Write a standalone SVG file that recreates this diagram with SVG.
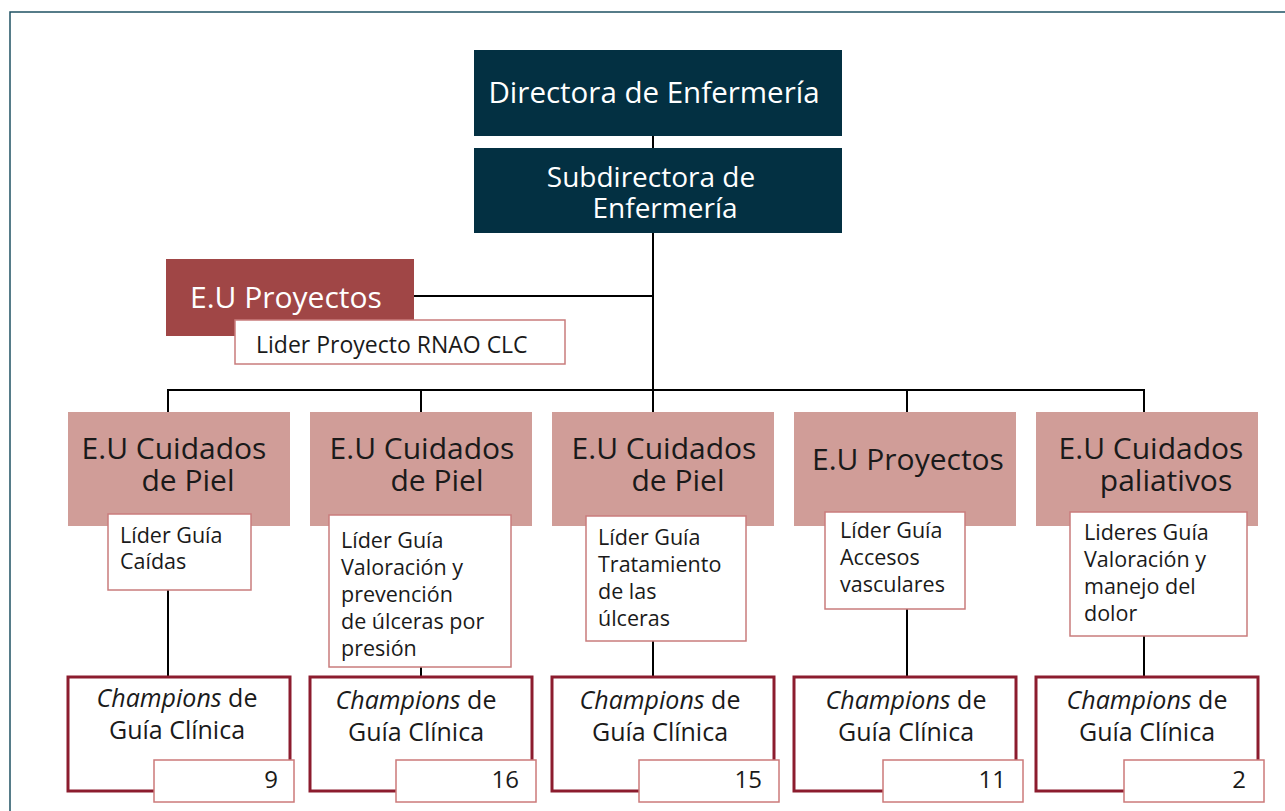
<svg xmlns="http://www.w3.org/2000/svg" width="1285" height="811" viewBox="0 0 1285 811">
<style>
.t{font-family:"Open Sans","Noto Sans","Liberation Sans",sans-serif;}
.dark{fill:#033042;}
.red{fill:#a04646;}
.pink{fill:#d09d98;}
.wb{fill:#ffffff;stroke:#c97c7c;stroke-width:1.5;}
.champ{fill:#ffffff;stroke:#8c1c2e;stroke-width:3;}
.num{fill:#ffffff;stroke:#cc7a7a;stroke-width:1.5;}
.wt{fill:#ffffff;}
.bt{fill:#1a1a1a;}
.lt{font-size:21.5px;}
.ct{font-size:25px;}
.c line{stroke:#000;stroke-width:2;}
</style>
<rect width="1285" height="811" fill="#ffffff"/>
<rect x="10" y="12" width="1300" height="830" fill="none" stroke="#1f5163" stroke-width="1.5"/>

<g class="c" id="connectors">
<line x1="653" y1="136" x2="653" y2="148"/>
<line x1="653" y1="233" x2="653" y2="391"/>
<line x1="414" y1="296" x2="653" y2="296"/>
<line x1="167" y1="390" x2="1145" y2="390"/>
<line x1="168" y1="390" x2="168" y2="412"/>
<line x1="421" y1="390" x2="421" y2="412"/>
<line x1="653" y1="390" x2="653" y2="412"/>
<line x1="907" y1="390" x2="907" y2="412"/>
<line x1="1144" y1="390" x2="1144" y2="412"/>
<line x1="168" y1="590" x2="168" y2="677"/>
<line x1="421" y1="667" x2="421" y2="677"/>
<line x1="653" y1="641" x2="653" y2="677"/>
<line x1="907" y1="609" x2="907" y2="677"/>
<line x1="1144" y1="636" x2="1144" y2="677"/>
</g>

<g id="directora">
<rect class="dark" x="474" y="50" width="368" height="86"/>
<text class="t wt" x="654" y="103" font-size="29.5" text-anchor="middle">Directora de Enfermería</text>
</g>
<g id="subdirectora">
<rect class="dark" x="474" y="148" width="368" height="85"/>
<text class="t wt" font-size="28" text-anchor="middle"><tspan x="651" y="187">Subdirectora de</tspan><tspan x="665" y="218">Enfermería</tspan></text>
</g>

<g id="eu-proyectos-top">
<rect class="red" x="166" y="259" width="248" height="77"/>
<text class="t wt" x="190" y="308" font-size="30">E.U Proyectos</text>
</g>
<g id="lider-rnao">
<rect class="wb" x="235" y="320" width="330" height="44"/>
<text class="t bt" x="256" y="353" font-size="23">Lider Proyecto RNAO CLC</text>
</g>

<!-- column 1 -->
<g id="col1-unit">
<rect class="pink" x="68" y="412" width="222" height="114"/>
<text class="t bt" font-size="30" text-anchor="middle"><tspan x="174" y="459">E.U Cuidados</tspan><tspan x="188" y="491">de Piel</tspan></text>
</g>
<g id="col1-lider">
<rect class="wb" x="108" y="514" width="143" height="76"/>
<text class="t bt lt"><tspan x="120" y="543">Líder Guía</tspan><tspan x="120" y="569">Caídas</tspan></text>
</g>
<g id="col1-champ">
<rect class="champ" x="68" y="677" width="222" height="114"/>
<text class="t bt ct" text-anchor="middle"><tspan x="177" y="707"><tspan font-style="italic">Champions</tspan> de</tspan><tspan x="177" y="739">Guía Clínica</tspan></text>
<rect class="num" x="154" y="760" width="140" height="42"/>
<text class="t bt" x="278" y="788" font-size="24" text-anchor="end">9</text>
</g>

<!-- column 2 -->
<g id="col2-unit">
<rect class="pink" x="310" y="412" width="222" height="114"/>
<text class="t bt" font-size="30" text-anchor="middle"><tspan x="422" y="459">E.U Cuidados</tspan><tspan x="437" y="491">de Piel</tspan></text>
</g>
<g id="col2-lider">
<rect class="wb" x="329" y="515" width="182" height="152"/>
<text class="t bt lt"><tspan x="341" y="548">Líder Guía</tspan><tspan x="341" y="575">Valoración y</tspan><tspan x="341" y="602">prevención</tspan><tspan x="341" y="629">de úlceras por</tspan><tspan x="341" y="656">presión</tspan></text>
</g>
<g id="col2-champ">
<rect class="champ" x="310" y="677" width="222" height="114"/>
<text class="t bt ct" text-anchor="middle"><tspan x="416" y="709"><tspan font-style="italic">Champions</tspan> de</tspan><tspan x="416" y="741">Guía Clínica</tspan></text>
<rect class="num" x="396" y="760" width="140" height="42"/>
<text class="t bt" x="519" y="788" font-size="24" text-anchor="end">16</text>
</g>

<!-- column 3 -->
<g id="col3-unit">
<rect class="pink" x="552" y="412" width="222" height="114"/>
<text class="t bt" font-size="30" text-anchor="middle"><tspan x="664" y="459">E.U Cuidados</tspan><tspan x="678" y="491">de Piel</tspan></text>
</g>
<g id="col3-lider">
<rect class="wb" x="586" y="516" width="160" height="125"/>
<text class="t bt lt"><tspan x="598" y="545">Líder Guía</tspan><tspan x="598" y="572">Tratamiento</tspan><tspan x="598" y="599">de las</tspan><tspan x="598" y="626">úlceras</tspan></text>
</g>
<g id="col3-champ">
<rect class="champ" x="552" y="677" width="222" height="114"/>
<text class="t bt ct" text-anchor="middle"><tspan x="660" y="709"><tspan font-style="italic">Champions</tspan> de</tspan><tspan x="660" y="741">Guía Clínica</tspan></text>
<rect class="num" x="639" y="760" width="140" height="42"/>
<text class="t bt" x="762" y="788" font-size="24" text-anchor="end">15</text>
</g>

<!-- column 4 -->
<g id="col4-unit">
<rect class="pink" x="794" y="412" width="222" height="114"/>
<text class="t bt" x="908" y="470" font-size="30" text-anchor="middle">E.U Proyectos</text>
</g>
<g id="col4-lider">
<rect class="wb" x="825" y="512" width="140" height="97"/>
<text class="t bt lt"><tspan x="840" y="538">Líder Guía</tspan><tspan x="840" y="565">Accesos</tspan><tspan x="840" y="592">vasculares</tspan></text>
</g>
<g id="col4-champ">
<rect class="champ" x="794" y="677" width="222" height="114"/>
<text class="t bt ct" text-anchor="middle"><tspan x="906" y="709"><tspan font-style="italic">Champions</tspan> de</tspan><tspan x="906" y="741">Guía Clínica</tspan></text>
<rect class="num" x="883" y="760" width="140" height="42"/>
<text class="t bt" x="1006" y="788" font-size="24" text-anchor="end">11</text>
</g>

<!-- column 5 -->
<g id="col5-unit">
<rect class="pink" x="1036" y="412" width="222" height="114"/>
<text class="t bt" font-size="30" text-anchor="middle"><tspan x="1151" y="459">E.U Cuidados</tspan><tspan x="1166" y="491">paliativos</tspan></text>
</g>
<g id="col5-lider">
<rect class="wb" x="1070" y="512" width="177" height="124"/>
<text class="t bt lt"><tspan x="1084" y="540">Lideres Guía</tspan><tspan x="1084" y="567">Valoración y</tspan><tspan x="1084" y="594">manejo del</tspan><tspan x="1084" y="621">dolor</tspan></text>
</g>
<g id="col5-champ">
<rect class="champ" x="1036" y="677" width="222" height="114"/>
<text class="t bt ct" text-anchor="middle"><tspan x="1147" y="709"><tspan font-style="italic">Champions</tspan> de</tspan><tspan x="1147" y="741">Guía Clínica</tspan></text>
<rect class="num" x="1124" y="760" width="140" height="42"/>
<text class="t bt" x="1246" y="788" font-size="24" text-anchor="end">2</text>
</g>
</svg>
